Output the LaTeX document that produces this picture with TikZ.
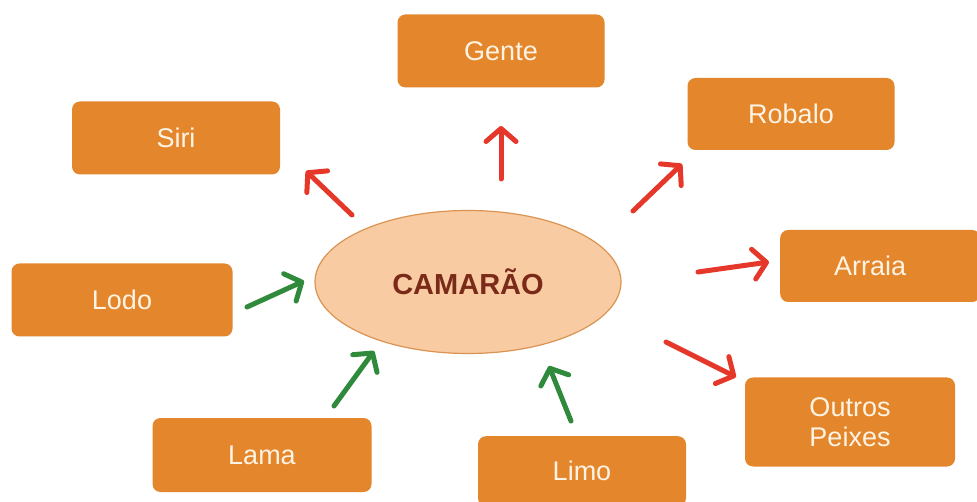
\documentclass[tikz,border=0pt]{standalone}
\usepackage{fontspec}
\setmainfont{Liberation Sans}
\usetikzlibrary{arrows.meta,shapes.geometric}
\definecolor{boxor}{HTML}{E3862C}
\definecolor{boxtxt}{HTML}{FFF4E4}
\definecolor{ellfill}{HTML}{F9CBA3}
\definecolor{elldraw}{HTML}{DA9350}
\definecolor{elltxt}{HTML}{7A2A18}
\definecolor{redarr}{HTML}{E5382A}
\definecolor{greenarr}{HTML}{2F8A3C}
\tikzset{
  boxnode/.style={draw=none,fill=boxor,rounded corners=8pt,text=boxtxt,
    font=\fontsize{27}{30}\selectfont,align=center,inner sep=0pt},
  outarr/.style={draw=redarr,line width=5pt,line cap=round,-{Straight Barb[length=13pt,width=30pt,line width=5pt,round]}},
  inarr/.style={draw=greenarr,line width=5pt,line cap=round,-{Straight Barb[length=13pt,width=30pt,line width=5pt,round]}},
}
\begin{document}
\begin{tikzpicture}[x=1pt,y=-1pt]
\useasboundingbox (0,0) rectangle (977,502);
% central ellipse
\node[ellipse,draw=elldraw,line width=1.2pt,fill=ellfill,minimum width=306pt,minimum height=143pt,
  text=elltxt,font=\fontsize{29}{32}\selectfont\bfseries] (cam) at (468,282) {CAMAR\~AO};
% boxes
\node[boxnode,minimum width=207pt,minimum height=73pt] (gente) at (501,51) {Gente};
\node[boxnode,minimum width=208pt,minimum height=73pt] (siri) at (176,138) {Siri};
\node[boxnode,minimum width=207pt,minimum height=72pt] (robalo) at (791,114) {Robalo};
\node[boxnode,minimum width=221pt,minimum height=73pt] (lodo) at (122,300) {Lodo};
\node[boxnode,minimum width=200pt,minimum height=72pt,anchor=west] (arraia) at (780,266) {\hspace*{-20pt}Arraia};
\node[boxnode,minimum width=210pt,minimum height=89pt] (outros) at (850,422) {Outros\\Peixes};
\node[boxnode,minimum width=219pt,minimum height=74pt] (lama) at (262,455) {Lama};
\node[boxnode,minimum width=208pt,minimum height=70pt,anchor=north] (limo) at (582,436) {Limo};
% arrow end points
\coordinate (g1) at (501,179); \coordinate (g2) at (501,126);
\coordinate (s1) at (352,215); \coordinate (s2) at (306,171);
\coordinate (r1) at (633,211); \coordinate (r2) at (682,164);
\coordinate (a1) at (698,272); \coordinate (a2) at (769,262);
\coordinate (o1) at (666,342); \coordinate (o2) at (736,377);
\coordinate (l1) at (247,307); \coordinate (l2) at (304,281);
\coordinate (m1) at (334,406); \coordinate (m2) at (374,351);
\coordinate (i1) at (571,421); \coordinate (i2) at (549,366);
% arrows
\draw[outarr] (g1) -- (g2);
\draw[outarr] (s1) -- (s2);
\draw[outarr] (r1) -- (r2);
\draw[outarr] (a1) -- (a2);
\draw[outarr] (o1) -- (o2);
\draw[inarr] (l1) -- (l2);
\draw[inarr] (m1) -- (m2);
\draw[inarr] (i1) -- (i2);
\end{tikzpicture}
\end{document}
